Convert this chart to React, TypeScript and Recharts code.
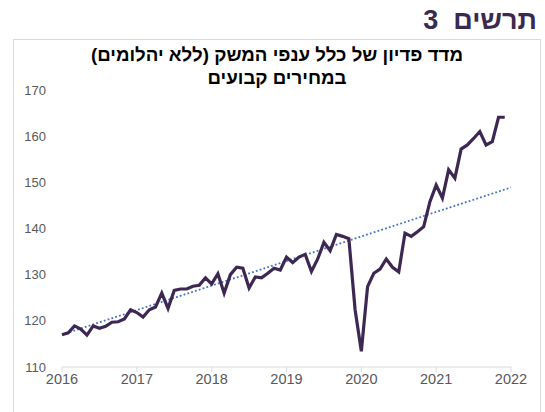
import { LineChart, Line, XAxis, YAxis } from 'recharts';

const years = ['2016', '2017', '2018', '2019', '2020', '2021', '2022'];
const yTicks = [110, 120, 130, 140, 150, 160, 170];

// monthly index values, Jan 2016 - Dec 2021
const values2016 = [117.0, 117.4, 118.9, 118.2, 116.9, 118.9, 118.4, 118.8, 119.7, 119.8, 120.4, 122.4];
const values2017 = [121.8, 120.8, 122.4, 123.0, 126.0, 122.7, 126.6, 126.9, 126.9, 127.5, 127.7, 129.3];
const values2018 = [128.0, 130.2, 126.0, 130.0, 131.6, 131.4, 127.1, 129.5, 129.3, 130.3, 131.4, 131.0];
const values2019 = [133.8, 132.6, 133.8, 134.4, 130.7, 133.4, 137.0, 135.2, 138.7, 138.3, 137.8, 122.4];
const values2020 = [113.4, 127.4, 130.3, 131.2, 133.4, 131.6, 130.6, 139.0, 138.3, 139.3, 140.4, 145.8];
const values2021 = [149.4, 146.6, 152.7, 150.9, 157.2, 158.1, 159.5, 161.0, 158.1, 158.8, 164.1, 164.1];

// linear trend end points
const trendStart = 117.0;
const trendEnd = 148.9;

const values = [...values2016, ...values2017, ...values2018, ...values2019, ...values2020, ...values2021];
const lastMonth = years.length * 12 - 12;

const data: { m: number; value?: number; trend?: number }[] = values.map((v, i) => ({
  m: i,
  value: v,
  trend: i === 0 ? trendStart : undefined,
}));
data.push({ m: lastMonth, trend: trendEnd });

const font = '"Liberation Sans", Arial, sans-serif';

export default function App() {
  return (
    <div
      style={{
        position: 'fixed',
        left: 0,
        top: 0,
        width: 545,
        height: 412,
        background: '#fff',
        overflow: 'hidden',
        fontFamily: font,
      }}
    >
      <div
        dir="rtl"
        style={{
          position: 'absolute',
          right: 8,
          top: 5,
          fontSize: 27,
          fontWeight: 'bold',
          color: '#3b2a4f',
          whiteSpace: 'pre',
        }}
      >
        {'תרשים  3'}
      </div>
      <div
        style={{
          position: 'absolute',
          left: 13,
          top: 39,
          width: 526,
          height: 400,
          border: '1px solid #d9d9d9',
        }}
      />
      <div
        dir="rtl"
        style={{
          position: 'absolute',
          left: 0,
          width: 554,
          top: 43,
          textAlign: 'center',
          fontSize: 18.7,
          lineHeight: '23px',
          fontWeight: 'bold',
          color: '#000',
        }}
      >
        <div>מדד פדיון של כלל ענפי המשק (ללא יהלומים)</div>
        <div>במחירים קבועים</div>
      </div>
      <div style={{ position: 'absolute', left: 0, top: 0 }}>
        <LineChart
          width={545}
          height={412}
          data={data}
          margin={{ top: 90, right: 34, bottom: 15, left: 0 }}
        >
          <XAxis
            dataKey="m"
            type="number"
            domain={[0, lastMonth]}
            ticks={years.map((_, i) => i * 12)}
            tickFormatter={(v: number) => years[v / 12]}
            height={30}
            stroke="#d9d9d9"
            tickSize={5}
            tick={{ fontSize: 14.5, fill: '#595959', fontFamily: font }}
            interval={0}
          />
          <YAxis
            domain={[110, 170]}
            ticks={yTicks}
            width={62}
            axisLine={false}
            tickLine={false}
            tickMargin={10}
            tick={{ fontSize: 13, fill: '#595959', fontFamily: font }}
          />
          <Line
            dataKey="trend"
            stroke="#4472c4"
            strokeWidth={1.8}
            strokeDasharray="1.8 2.2"
            dot={false}
            connectNulls
            isAnimationActive={false}
          />
          <Line
            dataKey="value"
            stroke="#3d2853"
            strokeWidth={3.2}
            dot={false}
            isAnimationActive={false}
          />
        </LineChart>
      </div>
    </div>
  );
}
